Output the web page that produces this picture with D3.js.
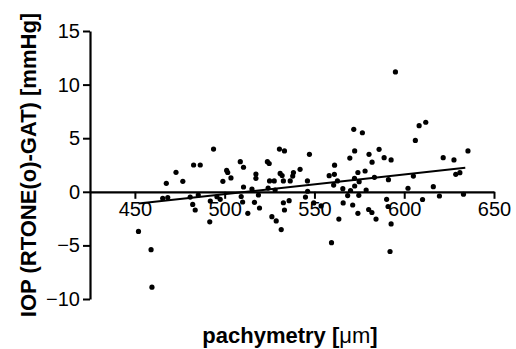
<!DOCTYPE html>
<html>
<head>
<meta charset="utf-8">
<script src="https://cdn.jsdelivr.net/npm/d3@7"></script>
<style>
  body { margin: 0; background: #fff; }
  svg text { font-family: "Liberation Sans", Arial, sans-serif; }
</style>
</head>
<body>
<div id="chart"></div>
<script>
// pachymetry [um] vs IOP difference [mmHg]
const pachy = [452, 459, 459.5, 465.5, 468.3, 467.5, 472.9, 476.7, 480.8, 482.2, 483.6, 482.7, 486.4, 485.3, 492, 491.7, 493.8, 495.7, 497.5, 499,
  501.1, 501.7, 503.5, 508.7, 510.5, 509.2, 510, 510.5, 512.9, 515.2, 517.4, 517.4, 516.6, 518.8, 519.4, 523.8, 524.8, 524.2, 525, 527.6,
  528.1, 526.3, 528.7, 531.5, 530.5, 533.3, 530.9, 532, 532.7, 536.5, 538.3, 537.9, 542, 532.7, 535.9, 533.3, 545, 546.2, 547.2, 546.1,
  549.6, 553.7, 559.5, 558.2, 561.1, 561.2, 560.7, 562.8, 563.6, 565.8, 566, 568.5, 570.1, 572.4, 571.3, 572.3, 574.2, 574.9, 574.7, 574.2,
  571.9, 576.7, 572.4, 569.7, 580.4, 582.1, 578.2, 578.8, 580.2, 582, 584.3, 583.4, 586, 588.8, 592.7, 591.2, 590.2, 591, 592.7, 592.1,
  595.1, 602.1, 605.1, 606.2, 608.3, 612, 610.2, 616.2, 619.6, 621.7, 627.7, 628.7, 631, 633, 635.5];
const iopDiff = [-3.7, -5.4, -8.9, -0.6, -0.53, 0.79, 1.82, 0.98, -0.49, -1.18, -1.7, 2.5, 2.5, -0.3, -0.86, -2.8, 3.99, -0.46, -0.7, 0.98,
  1.99, 1.8, 1.29, 2.81, 2.29, -0.44, -0.95, 0.45, -2.01, 0.26, 1.66, 1.26, -0.98, -0.3, -1.51, 2.81, 2.64, 0.35, 1.01, 1.01,
  0.17, -2.32, -2.72, -3.52, 3.99, 3.81, 1.71, 1.52, 1.01, 1.01, 1.8, 1.47, 2.1, -1.02, -0.83, -1.7, -0.49, 0.05, 3.5, 1.01,
  -1.04, -1.32, -4.75, 1.5, 1.63, 2.48, 0.63, 1.01, -2.54, 0.29, -1.04, -0.35, 0.12, 0.54, -1.23, 1.26, 1.8, 0.94, -0.33, -2.01,
  5.83, 5.51, 3.81, 3.15, 3.5, 2.76, 1.94, 0.17, -1.65, -1.93, -2.54, 1.35, 3.96, 3.18, 2.97, 1.13, -0.7, -1.37, -3, -5.57,
  11.18, 0.33, 1.47, 4.79, 6.17, 6.49, -0.72, 0.48, -0.39, 3.18, 2.97, 1.63, 1.78, -0.23, 3.81];

// fitted regression line end points
const fitX = [452, 634];
const fitY = [-1.1, 2.25];

const xTicks = [450, 500, 550, 600, 650];
const yTicks = [-10, -5, 0, 5, 10, 15];

const width = 516, height = 349;

const svg = d3.select('#chart').append('svg').attr('width', width).attr('height', height);

const x = d3.scaleLinear().domain([425, 650]).range([90, 494]);
const y = d3.scaleLinear().domain([-10, 15]).range([299, 31]);

// y axis
const yAxis = svg.append('g')
  .attr('transform', `translate(${x(425)},0)`)
  .call(d3.axisLeft(y).tickValues(yTicks).tickSizeOuter(0).tickSizeInner(7).tickPadding(3));

// x axis sits on y = 0
const xAxis = svg.append('g')
  .attr('transform', `translate(0,${y(0)})`)
  .call(d3.axisBottom(x).tickValues(xTicks).tickSizeOuter(0).tickSizeInner(7).tickPadding(3));

[yAxis, xAxis].forEach(a => {
  a.select('.domain').attr('stroke', '#000').attr('stroke-width', 2.2);
  a.selectAll('.tick line').attr('stroke', '#000').attr('stroke-width', 2);
  a.selectAll('.tick text').attr('fill', '#000').style('font-size', '20px');
});

// points
svg.append('g')
  .selectAll('circle')
  .data(pachy.map((p, i) => [p, iopDiff[i]]))
  .enter()
  .append('circle')
  .attr('cx', d => x(d[0]))
  .attr('cy', d => y(d[1]))
  .attr('r', 2.6)
  .attr('fill', '#000');

// regression line
svg.append('line')
  .attr('x1', x(fitX[0])).attr('y1', y(fitY[0]))
  .attr('x2', x(fitX[1])).attr('y2', y(fitY[1]))
  .attr('stroke', '#000')
  .attr('stroke-width', 2);

// axis titles
svg.append('text')
  .attr('transform', 'translate(36,165) rotate(-90)')
  .attr('text-anchor', 'middle')
  .style('font-size', '22px')
  .style('font-weight', 'bold')
  .text('IOP (RTONE(o)-GAT) [mmHg]');

const xt = svg.append('text')
  .attr('x', 290)
  .attr('y', 343)
  .attr('text-anchor', 'middle')
  .style('font-size', '22px')
  .style('font-weight', 'bold');
xt.append('tspan').text('pachymetry [');
xt.append('tspan').style('font-weight', 'normal').text('μm');
xt.append('tspan').text(']');
</script>
</body>
</html>
